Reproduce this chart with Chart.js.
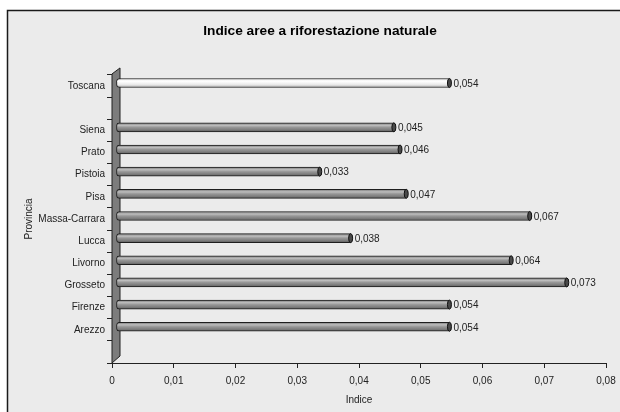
<!DOCTYPE html>
<html>
<head>
<meta charset="utf-8">
<script src="https://cdn.jsdelivr.net/npm/chart.js@4.4.1/dist/chart.umd.min.js"></script>
<style>
  html, body { margin: 0; padding: 0; background: #ffffff; }
  canvas { display: block; }
</style>
</head>
<body>
<canvas id="chart" width="620" height="412"></canvas>
<script>
// Province rows (top to bottom); empty strings are spacer rows
const provinces = ['Toscana', '', 'Siena', 'Prato', 'Pistoia', 'Pisa', 'Massa-Carrara',
                   'Lucca', 'Livorno', 'Grosseto', 'Firenze', 'Arezzo', ''];
// Natural reforestation index per row
const indexValues = [0.054, null, 0.045, 0.046, 0.033, 0.047, 0.067,
                     0.038, 0.064, 0.073, 0.054, 0.054, null];
// X axis range and step
const xMin = 0;
const xMax = 0.08;
const xStep = 0.01;

const FONT = "'Liberation Sans', Arial, sans-serif";
const BAR_H = 9;
const DEPTH_X = 4, DEPTH_Y = -3;

function fmt(v) {
  if (Math.abs(v) < 1e-9) return '0';
  return v.toFixed(2).replace('.', ',');
}
function fmtLabel(v) {
  return v.toFixed(3).replace('.', ',');
}

// Cylinder-like shading for each bar
function barFill(ctx) {
  const chart = ctx.chart;
  const y = chart.scales && chart.scales.y;
  const fallback = ctx.dataIndex === 0 ? '#f2f2f2' : '#909090';
  if (!y || ctx.dataIndex === undefined) return fallback;
  const yc = y.getPixelForValue(ctx.dataIndex);
  if (!isFinite(yc)) return fallback;
  const g = chart.ctx.createLinearGradient(0, yc - BAR_H / 2, 0, yc + BAR_H / 2);
  if (ctx.dataIndex === 0) {
    g.addColorStop(0, '#e6e6e6');
    g.addColorStop(0.3, '#ffffff');
    g.addColorStop(0.65, '#ececec');
    g.addColorStop(1, '#b4b4b4');
  } else {
    g.addColorStop(0, '#767676');
    g.addColorStop(0.28, '#bdbdbd');
    g.addColorStop(0.5, '#979797');
    g.addColorStop(0.8, '#7a7a7a');
    g.addColorStop(1, '#565656');
  }
  return g;
}

const framePlugin = {
  id: 'frame',
  beforeDraw(chart) {
    const c = chart.ctx;
    c.save();
    c.fillStyle = '#ffffff';
    c.fillRect(0, 0, chart.width, chart.height);
    c.fillStyle = '#ebebeb';
    c.fillRect(7, 10, chart.width - 7, chart.height - 10);
    c.strokeStyle = '#1a1a1a';
    c.lineWidth = 1.5;
    c.beginPath();
    c.moveTo(7.5, chart.height);
    c.lineTo(7.5, 10.5);
    c.lineTo(chart.width, 10.5);
    c.stroke();
    c.restore();
  },
  beforeDatasetsDraw(chart) {
    const c = chart.ctx;
    const a = chart.chartArea;
    // side wall of the 3D plot
    c.save();
    c.fillStyle = '#7c7c7c';
    c.strokeStyle = '#202020';
    c.lineWidth = 1;
    c.beginPath();
    c.moveTo(a.left, a.top - 1);
    c.lineTo(a.left + 8, a.top - 7);
    c.lineTo(a.left + 8, a.bottom - 7);
    c.lineTo(a.left, a.bottom);
    c.closePath();
    c.fill();
    c.stroke();
    c.restore();
    c.save();
    c.translate(DEPTH_X, DEPTH_Y);
  },
  afterDatasetsDraw(chart) {
    const c = chart.ctx;
    const meta = chart.getDatasetMeta(0);
    meta.data.forEach((el, i) => {
      const v = indexValues[i];
      if (v === null || v === undefined) return;
      // end cap
      c.save();
      c.fillStyle = '#4a4a4a';
      c.strokeStyle = '#111111';
      c.lineWidth = 1;
      c.beginPath();
      c.ellipse(el.x, el.y, 2, BAR_H / 2, 0, 0, Math.PI * 2);
      c.fill();
      c.stroke();
      c.restore();
      // value label
      c.save();
      c.font = '10px ' + FONT;
      c.fillStyle = '#222222';
      c.textAlign = 'left';
      c.textBaseline = 'middle';
      c.fillText(fmtLabel(v), el.x + 4, el.y + 1);
      c.restore();
    });
    c.restore();
  }
};

new Chart(document.getElementById('chart'), {
  type: 'bar',
  data: {
    labels: provinces,
    datasets: [{
      data: indexValues,
      backgroundColor: barFill,
      borderColor: '#1e1e1e',
      borderWidth: 1,
      borderSkipped: false,
      borderRadius: { topLeft: 3, bottomLeft: 3, topRight: 0, bottomRight: 0 },
      barThickness: BAR_H
    }]
  },
  options: {
    indexAxis: 'y',
    responsive: false,
    animation: false,
    devicePixelRatio: 1,
    layout: { padding: { left: 22, right: 2, top: 0, bottom: 0 } },
    plugins: {
      legend: { display: false },
      tooltip: { enabled: false },
      title: {
        display: true,
        text: 'Indice aree a riforestazione naturale',
        color: '#000000',
        font: { family: FONT, size: 13.7, weight: 'bold' },
        padding: { top: 23.5, bottom: 35 }
      }
    },
    scales: {
      x: {
        type: 'linear',
        min: xMin,
        max: xMax,
        afterFit(s) { s.height = 49; s.paddingLeft = 0; s.paddingRight = 14; },
        ticks: {
          stepSize: xStep,
          color: '#222222',
          font: { family: FONT, size: 10 },
          padding: 7,
          callback: (v) => fmt(v)
        },
        grid: { display: true, drawOnChartArea: false, drawTicks: true, tickLength: 5, color: '#222222' },
        border: { display: true, color: '#222222', width: 1 },
        title: {
          display: true,
          text: 'Indice',
          color: '#222222',
          font: { family: FONT, size: 10 },
          padding: { top: 0, bottom: 6 }
        }
      },
      y: {
        type: 'category',
        offset: true,
        afterFit(s) { s.width = 90; s.paddingTop = 0; s.paddingBottom = 0; },
        ticks: {
          color: '#222222',
          font: { family: FONT, size: 10 },
          padding: 2,
          autoSkip: false
        },
        grid: { display: true, offset: true, drawOnChartArea: false, drawTicks: true, tickLength: 5, color: '#222222' },
        border: { display: true, color: '#222222', width: 1 },
        title: {
          display: true,
          text: 'Provincia',
          color: '#222222',
          font: { family: FONT, size: 10 },
          padding: { top: 1, bottom: 0 }
        }
      }
    }
  },
  plugins: [framePlugin]
});
</script>
</body>
</html>
